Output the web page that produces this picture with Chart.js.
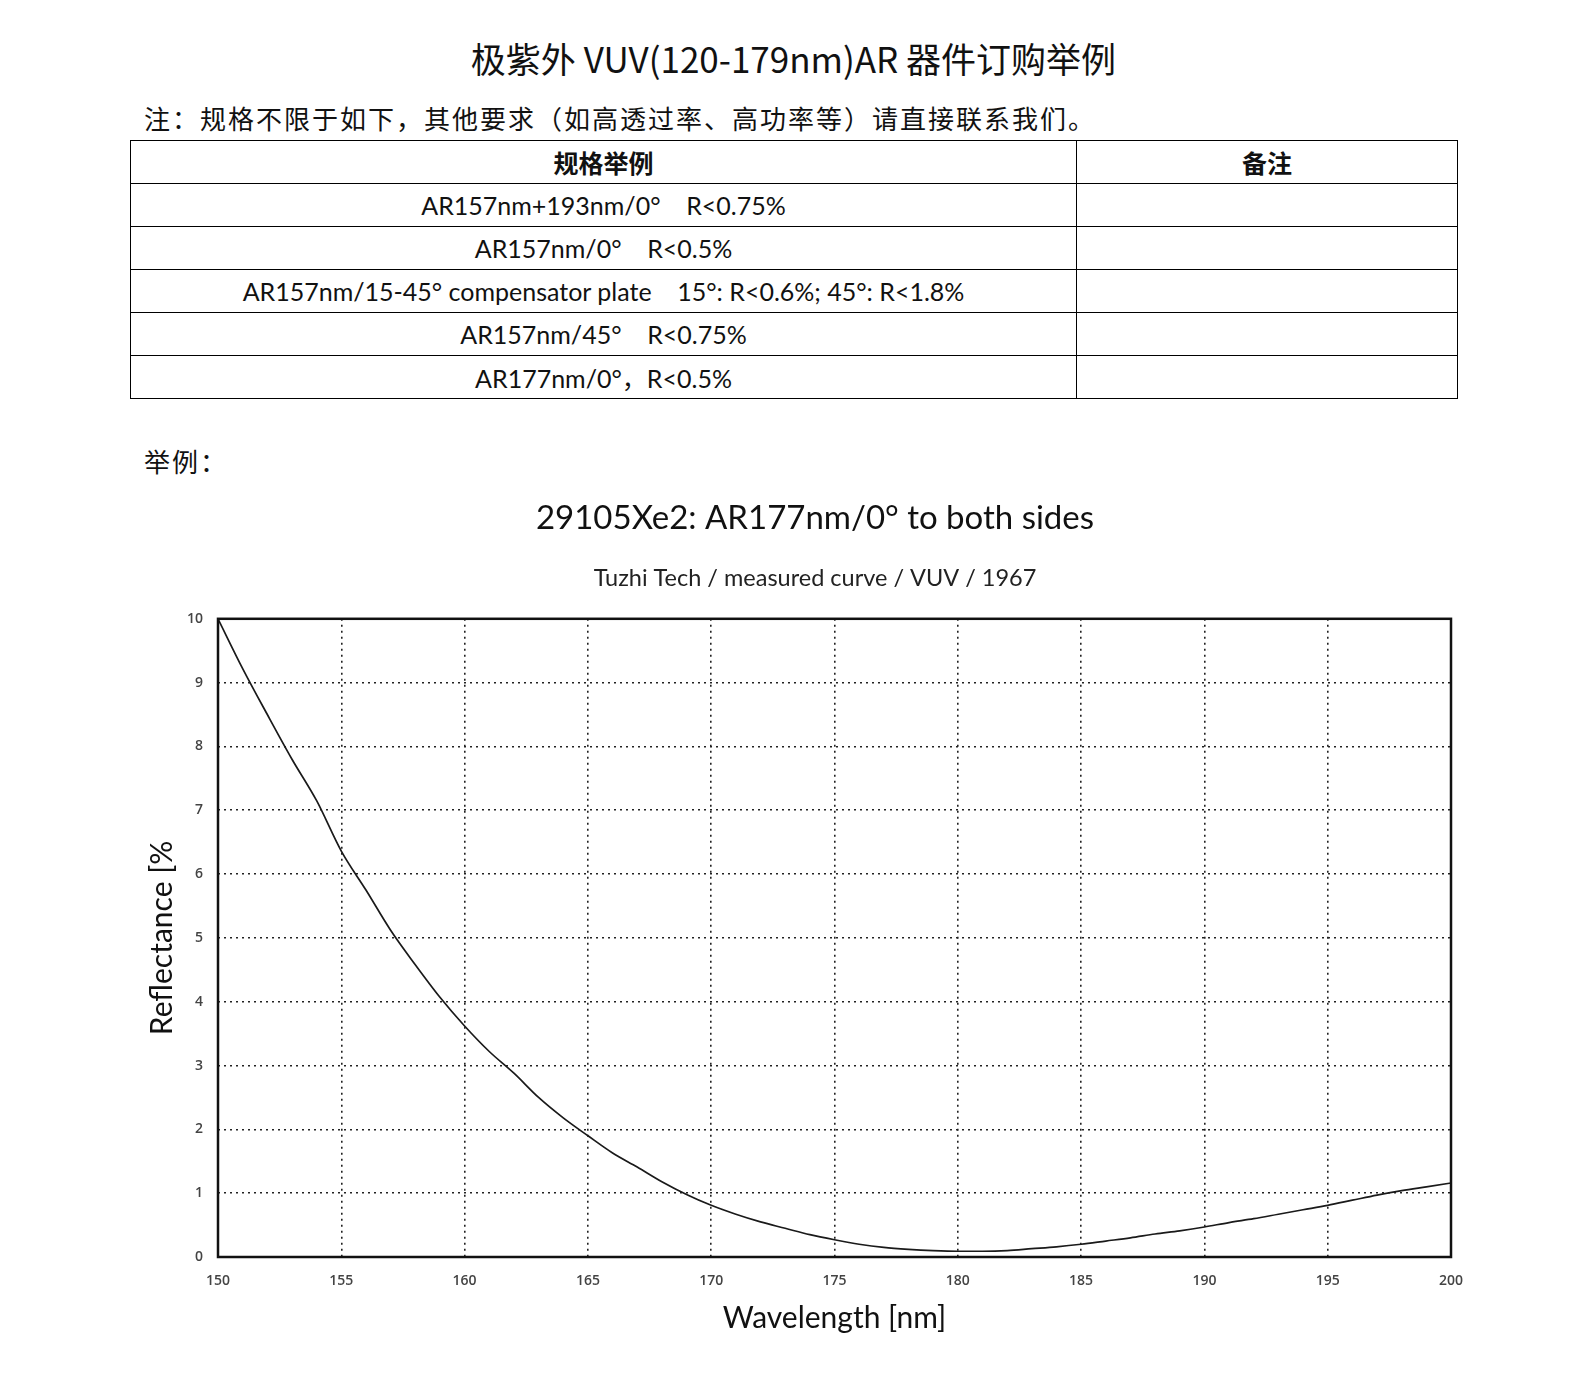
<!DOCTYPE html>
<html lang="zh-CN">
<head>
<meta charset="utf-8">
<title>极紫外 VUV AR 器件订购举例</title>
<script src="https://cdn.jsdelivr.net/npm/chart.js@4.4.1/dist/chart.umd.min.js"></script>
<style>
  html, body { margin: 0; padding: 0; background: #fff; }
  body { width: 1587px; height: 1376px; position: relative; overflow: hidden; font-family: "Noto Sans CJK SC", sans-serif; color: #111; }
  #pageTitle { position: absolute; left: 0; width: 1587px; top: 35px; text-align: center; font-size: 35px; line-height: 46px; }
  .note { position: absolute; left: 144px; font-size: 26px; line-height: 32px; letter-spacing: 2px; }
  #spec { position: absolute; left: 130px; top: 140px; width: 1328px; border-collapse: collapse; table-layout: fixed; }
  #spec th, #spec td { border: 1.5px solid #000; height: 42px; padding: 0; text-align: center; }
  #spec th { font-size: 25px; font-weight: 700; }
  #spec td { font-family: Lato, "Noto Sans CJK SC", sans-serif; font-size: 25px; white-space: pre; }
  #chart { position: absolute; left: 0; top: 480px; }
</style>
</head>
<body>
<div id="pageTitle">极紫外 VUV(120-179nm)AR 器件订购举例</div>
<div class="note" style="top:102px">注：规格不限于如下，其他要求（如高透过率、高功率等）请直接联系我们。</div>
<table id="spec">
  <colgroup><col style="width:946px"><col></colgroup>
  <thead><tr><th>规格举例</th><th>备注</th></tr></thead>
  <tbody></tbody>
</table>
<div class="note" style="top:445px">举例：</div>
<canvas id="chart" width="1587" height="896"></canvas>
<script>
// table rows
const specRows = [
  'AR157nm+193nm/0°    R<0.75%',
  'AR157nm/0°    R<0.5%',
  'AR157nm/15-45° compensator plate    15°: R<0.6%; 45°: R<1.8%',
  'AR157nm/45°    R<0.75%',
  'AR177nm/0°，R<0.5%'
];

// measured curve
const wavelengths = [150, 151, 152, 153, 154, 155, 156, 157, 158, 159,
  160, 161, 162, 163, 164, 165, 166, 167, 168, 169,
  170, 171, 172, 173, 174, 175, 176, 177, 178, 179,
  180, 181, 182, 183, 184, 185, 186, 187, 188, 189,
  190, 191, 192, 193, 194, 195, 196, 197, 198, 199, 200];
const reflectance = [10.0, 9.22, 8.5, 7.8, 7.15, 6.36, 5.75, 5.12, 4.58, 4.07,
  3.62, 3.22, 2.88, 2.50, 2.18, 1.90, 1.63, 1.41, 1.18, 0.98,
  0.81, 0.67, 0.55, 0.45, 0.35, 0.27, 0.20, 0.15, 0.12, 0.10,
  0.09, 0.09, 0.10, 0.13, 0.16, 0.20, 0.25, 0.30, 0.36, 0.41,
  0.47, 0.54, 0.60, 0.67, 0.74, 0.81, 0.89, 0.97, 1.04, 1.10, 1.16];

const tbody = document.querySelector('#spec tbody');
specRows.forEach(text => {
  const tr = document.createElement('tr');
  const td1 = document.createElement('td');
  td1.textContent = text;
  tr.appendChild(td1);
  tr.appendChild(document.createElement('td'));
  tbody.appendChild(tr);
});

const points = wavelengths.map((w, i) => ({ x: w, y: reflectance[i] }));

// black frame round the plot area
const frame = {
  id: 'frame',
  afterDatasetsDraw(chart) {
    const { ctx, chartArea: a } = chart;
    ctx.save();
    ctx.lineWidth = 2.5;
    ctx.strokeStyle = '#111';
    ctx.strokeRect(a.left, a.top, a.right - a.left, a.bottom - a.top);
    ctx.restore();
  }
};

const tickFont = { family: 'Open Sans', size: 14, weight: '600' };

const ctx = document.getElementById('chart').getContext('2d');
const chart = new Chart(ctx, {
  type: 'line',
  data: {
    datasets: [{
      data: points,
      borderColor: '#1a1a1a',
      borderWidth: 1.7,
      pointRadius: 0,
      cubicInterpolationMode: 'monotone',
      fill: false
    }]
  },
  options: {
    responsive: false,
    animation: false,
    layout: { padding: { left: 43, right: 0, top: 0, bottom: 0 } },
    plugins: {
      legend: { display: false },
      tooltip: { enabled: false },
      title: {
        display: true,
        text: '29105Xe2: AR177nm/0° to both sides',
        color: '#111',
        font: { family: 'Lato', size: 33, weight: 'normal' },
        padding: { top: 19, bottom: 0 }
      },
      subtitle: {
        display: true,
        text: 'Tuzhi Tech / measured curve / VUV / 1967',
        color: '#222',
        font: { family: 'Lato', size: 23.5 },
        padding: { top: 26, bottom: 26 }
      }
    },
    scales: {
      x: {
        type: 'linear',
        min: 150,
        max: 200,
        ticks: { stepSize: 5, padding: 16, color: '#444', font: tickFont },
        grid: { color: '#222', lineWidth: 1.6, drawTicks: false },
        border: { display: false, dash: [2, 4] },
        title: {
          display: true,
          text: 'Wavelength [nm]',
          color: '#111',
          font: { family: 'Lato', size: 30 },
          padding: { top: 0, bottom: 40 }
        },
        afterFit(scale) { scale.height = 119; }
      },
      y: {
        min: 0,
        max: 10,
        ticks: { stepSize: 1, padding: 15, color: '#444', font: tickFont },
        grid: { color: '#222', lineWidth: 1.6, drawTicks: false },
        border: { display: false, dash: [2, 4] },
        title: {
          display: true,
          text: 'Reflectance [%',
          color: '#111',
          font: { family: 'Lato', size: 30 },
          padding: { top: 101, bottom: 0 }
        },
        afterFit(scale) { scale.width = 175; }
      },
      // empty right-hand axis, keeps the plot off the right edge
      yRight: {
        position: 'right',
        grid: { display: false },
        ticks: { display: false },
        border: { display: false },
        afterFit(scale) { scale.width = 136; }
      }
    }
  },
  plugins: [frame]
});
</script>
</body>
</html>
